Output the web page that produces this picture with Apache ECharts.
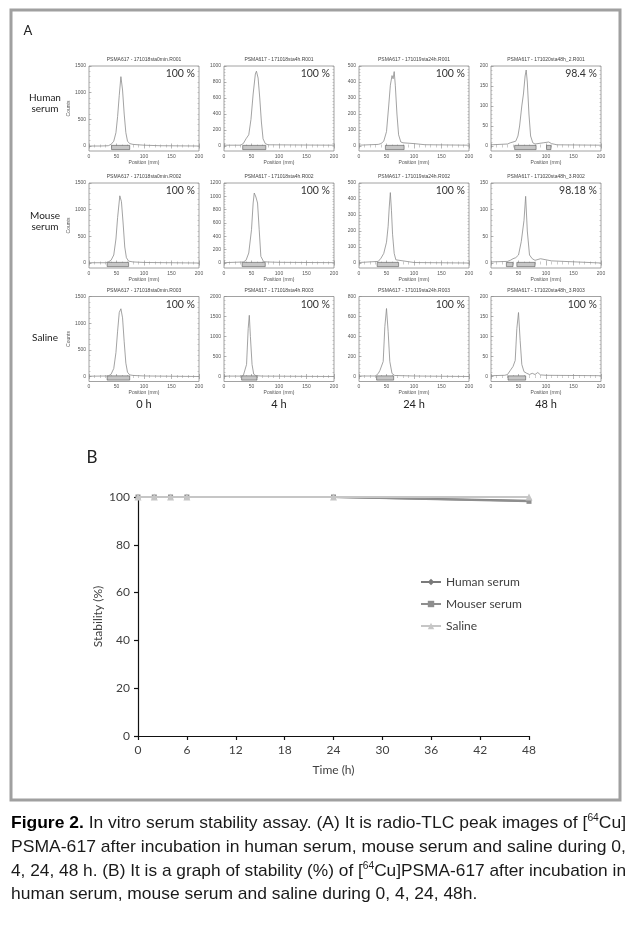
<!DOCTYPE html>
<html><head><meta charset="utf-8">
<script src="https://cdn.jsdelivr.net/npm/echarts@6/dist/echarts.min.js"></script>
<style>html,body{margin:0;padding:0;background:#fff}#c{width:640px;height:928px}</style>
</head><body><div id="c"></div>
<script>
// ---------------- Panel A data (radio-TLC traces: [position mm, counts]) ----------------
const human0h  = [[0,0],[20,0],[35,5],[40,30],[45,90],[49,250],[52,550],[55,950],[58,1300],[61,1050],[64,600],[67,250],[70,90],[74,45],[80,30],[100,15],[130,5],[200,0]];
const human4h  = [[0,10],[30,10],[35,30],[40,90],[45,140],[49,330],[53,650],[57,900],[59,935],[62,850],[65,600],[68,300],[71,90],[75,30],[80,15],[200,10]];
const human24h = [[0,5],[35,10],[40,15],[45,30],[50,90],[54,250],[57,380],[60,440],[62,420],[64,465],[66,380],[69,200],[72,70],[76,25],[80,20],[100,15],[120,8],[200,5]];
const human48h = [[0,3],[30,5],[35,8],[40,10],[45,12],[49,25],[52,50],[56,100],[59,130],[62,175],[64,190],[66,160],[69,80],[72,25],[76,8],[80,5],[95,8],[105,10],[110,6],[120,3],[200,2]];
const mouse0h  = [[0,5],[30,5],[35,20],[40,50],[45,150],[49,450],[52,850],[56,1260],[59,1150],[62,750],[65,300],[68,100],[72,35],[80,20],[100,10],[200,0]];
const mouse4h  = [[0,5],[35,15],[40,40],[45,150],[50,500],[53,900],[55,1050],[58,990],[61,900],[64,500],[67,100],[72,20],[80,15],[100,10],[200,5]];
const mouse24h = [[0,3],[35,10],[40,30],[45,60],[50,130],[53,230],[55,350],[57,440],[59,330],[61,180],[64,60],[67,20],[70,8],[100,3],[200,0]];
const mouse48h = [[0,2],[30,3],[35,5],[40,8],[45,10],[50,15],[55,40],[60,80],[63,125],[66,60],[70,15],[75,8],[80,5],[90,8],[100,6],[110,4],[200,0]];
const saline0h  = [[0,5],[35,10],[40,40],[45,150],[49,450],[52,850],[55,1200],[58,1270],[61,1100],[64,650],[67,250],[70,80],[74,30],[80,20],[100,10],[200,0]];
const saline4h  = [[0,10],[30,10],[35,20],[38,60],[41,300],[44,1200],[46,1530],[48,1000],[51,300],[54,60],[58,20],[70,10],[200,0]];
const saline24h = [[0,5],[30,5],[35,30],[38,60],[41,70],[44,150],[47,500],[50,680],[53,450],[56,150],[60,30],[65,10],[100,5],[200,0]];
const saline48h = [[0,2],[25,3],[30,5],[35,15],[40,25],[44,40],[47,120],[50,160],[53,90],[56,30],[60,12],[65,8],[70,5],[75,8],[80,5],[85,10],[90,4],[100,3],[200,2]];

// integration regions (mm)
const human0hRegion = [[41,74]], human4hRegion = [[34,76]], human24hRegion = [[48,82]], human48hRegion = [[43,82],[101,109]];
const mouse0hRegion = [[33,72]], mouse4hRegion = [[33,75]], mouse24hRegion = [[33,72]], mouse48hRegion = [[28,40],[47,80]];
const saline0hRegion = [[33,74]], saline4hRegion = [[32,60]], saline24hRegion = [[32,63]], saline48hRegion = [[31,63]];

// y tick labels
const humanTicks  = [[0,500,1000,1500],[0,200,400,600,800,1000],[0,100,200,300,400,500],[0,50,100,150,200]];
const mouseTicks  = [[0,500,1000,1500],[0,200,400,600,800,1000,1200],[0,100,200,300,400,500],[0,50,100,150]];
const salineTicks = [[0,500,1000,1500],[0,500,1000,1500,2000],[0,200,400,600,800],[0,50,100,150,200]];
const xTicksA = [0,50,100,150,200];

const humanTitles  = ['PSMA617 - 171018sta0min.R001','PSMA617 - 171018sta4h.R001','PSMA617 - 171019sta24h.R001','PSMA617 - 171020sta48h_2.R001'];
const mouseTitles  = ['PSMA617 - 171018sta0min.R002','PSMA617 - 171018sta4h.R002','PSMA617 - 171019sta24h.R002','PSMA617 - 171020sta48h_3.R002'];
const salineTitles = ['PSMA617 - 171018sta0min.R003','PSMA617 - 171018sta4h.R003','PSMA617 - 171019sta24h.R003','PSMA617 - 171020sta48h_3.R003'];
const humanPct  = ['100 %','100 %','100 %','98.4 %'];
const mousePct  = ['100 %','100 %','100 %','98.18 %'];
const salinePct = ['100 %','100 %','100 %','100 %'];
const rowLabels = [['Human','serum'],['Mouse','serum'],['Saline']];
const timeLabels = ['0 h','4 h','24 h','48 h'];

// ---------------- Panel B data ----------------
const timesB = [0,2,4,6,24,48];
const humanSerum = [100,100,100,100,100,98.4];
const mouseSerum = [100,100,100,100,100,98.18];
const salineB    = [100,100,100,100,100,100];
const seriesNamesB = ['Human serum','Mouser serum','Saline'];
const xTicksB = [0,6,12,18,24,30,36,42,48];
const yTicksB = [0,20,40,60,80,100];

// ---------------- Caption ----------------
const captionLines = [
  [['Figure 2.','b'],[' In vitro serum stability assay. (A) It is radio-TLC peak images of [','n'],['64','s'],['Cu]','n']],
  [['PSMA-617 after incubation in human serum, mouse serum and saline during 0,','n']],
  [['4, 24, 48 h. (B) It is a graph of stability (%) of [','n'],['64','s'],['Cu]PSMA-617 after incubation in','n']],
  [['human serum, mouse serum and saline during 0, 4, 24, 48h.','n']]
];

// ---------------- Build ----------------
const rows = [
  {data:[human0h,human4h,human24h,human48h], regions:[human0hRegion,human4hRegion,human24hRegion,human48hRegion], ticks:humanTicks, titles:humanTitles, pct:humanPct},
  {data:[mouse0h,mouse4h,mouse24h,mouse48h], regions:[mouse0hRegion,mouse4hRegion,mouse24hRegion,mouse48hRegion], ticks:mouseTicks, titles:mouseTitles, pct:mousePct},
  {data:[saline0h,saline4h,saline24h,saline48h], regions:[saline0hRegion,saline4hRegion,saline24hRegion,saline48hRegion], ticks:salineTicks, titles:salineTitles, pct:salinePct}
];
const colLefts = [89, 224, 359, 491];
const rowTops = [66, 183, 296.5];
const GW = 110, GH = 85;
const SANS = 'Lato, "Open Sans", sans-serif';
const TINY = '"Liberation Sans", Arial, sans-serif';
const plain = v => String(v);

const grid = [], xAxis = [], yAxis = [], series = [], graphic = [];
graphic.push({type:'rect', shape:{x:11, y:10, width:609, height:790}, style:{fill:'none', stroke:'#a0a0a0', lineWidth:3}, silent:true});
graphic.push({type:'text', x:28, y:31, style:{text:'A', fontSize:13, fontFamily:SANS, fill:'#222', align:'center', verticalAlign:'middle'}});

let gi = 0;
rows.forEach((row, r) => {
  row.data.forEach((d, c) => {
    const left = colLefts[c], top = rowTops[r];
    const ticks = row.ticks[c];
    const ymax = ticks[ticks.length-1];
    const ymin = -ymax * 5/80;
    const step = ticks[1]-ticks[0];
    const minors = [];
    for (let v = 0; v <= ymax + 1e-9; v += step/5) minors.push(Math.round(v*1000)/1000);
    grid.push({left:left, top:top, width:GW, height:GH, show:true, borderColor:'#8a8a8a', borderWidth:0.8, backgroundColor:'transparent'});
    const xi = xAxis.length, yi = yAxis.length;
    xAxis.push({type:'value', gridIndex:gi, min:0, max:200, interval:50, position:'bottom',
      axisLine:{show:false}, splitLine:{show:false},
      axisTick:{inside:true, length:2.5, lineStyle:{color:'#888', width:0.6}},
      minorTick:{show:true, splitNumber:5, length:1.5, lineStyle:{color:'#999', width:0.5}},
      axisLabel:{fontSize:5, color:'#555', margin:3, fontFamily:TINY, customValues:xTicksA, formatter:plain},
      name:'Position (mm)', nameLocation:'middle', nameGap:8.5, nameTextStyle:{fontSize:5, color:'#555', fontFamily:TINY}});
    xAxis.push({type:'value', gridIndex:gi, min:0, max:200, interval:50, position:'top',
      axisLine:{show:false}, splitLine:{show:false}, axisLabel:{show:false},
      axisTick:{inside:true, length:2.5, lineStyle:{color:'#888', width:0.6}},
      minorTick:{show:true, splitNumber:5, length:1.5, lineStyle:{color:'#999', width:0.5}}});
    const yLeft = {type:'value', gridIndex:gi, min:ymin, max:ymax, position:'left',
      axisLine:{show:false}, splitLine:{show:false},
      axisTick:{inside:true, length:2.5, customValues:ticks, lineStyle:{color:'#888', width:0.6}},
      axisLabel:{fontSize:5, color:'#555', margin:3, customValues:ticks, fontFamily:TINY, formatter:plain}};
    if (c === 0) Object.assign(yLeft, {name:'Counts', nameLocation:'middle', nameGap:17, nameRotate:90, nameTextStyle:{fontSize:5, color:'#555', fontFamily:TINY}});
    yAxis.push(yLeft);
    yAxis.push({type:'value', gridIndex:gi, min:ymin, max:ymax, position:'left',
      axisLine:{show:false}, splitLine:{show:false}, axisLabel:{show:false},
      axisTick:{inside:true, length:1.5, customValues:minors, lineStyle:{color:'#999', width:0.5}}});
    yAxis.push({type:'value', gridIndex:gi, min:ymin, max:ymax, position:'right',
      axisLine:{show:false}, splitLine:{show:false}, axisLabel:{show:false},
      axisTick:{inside:true, length:1.5, customValues:minors, lineStyle:{color:'#999', width:0.5}}});
    series.push({type:'line', xAxisIndex:xi, yAxisIndex:yi, data:d, symbol:'none', silent:true,
      lineStyle:{color:'#8c8c8c', width:0.8}, z:3,
      markArea:{silent:true, itemStyle:{color:'#c6c6c6', borderColor:'#555', borderWidth:0.6},
        data: row.regions[c].map(([a,b]) => [{coord:[a, -ymax*0.045]}, {coord:[b, ymax*0.008]}])}});
    graphic.push({type:'text', x:left+GW/2, y:top-6, style:{text:row.titles[c], fontSize:5, fontFamily:TINY, fill:'#444', align:'center', verticalAlign:'middle'}});
    graphic.push({type:'text', x:left+GW-4, y:top+8, style:{text:row.pct[c], fontSize:10.5, fontFamily:SANS, fill:'#333', align:'right', verticalAlign:'middle'}});
    gi++;
  });
  const lab = rowLabels[r];
  const cy = [103, 221, 338][r];
  graphic.push({type:'text', x:45, y:cy, style:{text:lab.join('\n'), fontSize:10, lineHeight:11, fontFamily:SANS, fill:'#222', align:'center', verticalAlign:'middle'}});
});
timeLabels.forEach((t, c) => {
  graphic.push({type:'text', x:colLefts[c]+GW/2, y:404, style:{text:t, fontSize:11, fontFamily:SANS, fill:'#222', align:'center', verticalAlign:'middle'}});
});

// Panel B
graphic.push({type:'text', x:92, y:458, style:{text:'B', fontSize:17, fontFamily:SANS, fill:'#222', align:'center', verticalAlign:'middle'}});
const gB = grid.length;
grid.push({left:138, top:497, width:391, height:239, show:false});
const xB = xAxis.length, yB = yAxis.length;
const axisStyleB = {lineStyle:{color:'#111', width:1.2}};
xAxis.push({type:'value', gridIndex:gB, min:0, max:48, interval:6,
  axisLine:{show:true, onZero:false, ...axisStyleB}, axisTick:{show:true, length:4, lineStyle:{color:'#111', width:1.2}},
  splitLine:{show:false}, axisLabel:{fontSize:12, color:'#404040', margin:8, fontFamily:SANS, customValues:xTicksB},
  name:'Time (h)', nameLocation:'middle', nameGap:28, nameTextStyle:{fontSize:12, color:'#404040', fontFamily:SANS}});
yAxis.push({type:'value', gridIndex:gB, min:0, max:100, interval:20,
  axisLine:{show:true, onZero:false, ...axisStyleB}, axisTick:{show:true, length:4, lineStyle:{color:'#111', width:1.2}},
  splitLine:{show:false}, axisLabel:{fontSize:12, color:'#404040', margin:8, fontFamily:SANS, customValues:yTicksB},
  name:'Stability (%)', nameLocation:'middle', nameGap:34, nameMoveOverlap:false, nameRotate:90, nameTextStyle:{fontSize:12, color:'#404040', fontFamily:SANS}});
const pair = v => timesB.map((t,i) => [t, v[i]]);
const bStyles = [
  {sym:'diamond', size:5, color:'#7a7a7a'},
  {sym:'rect', size:5, color:'#8e8e8e'},
  {sym:'triangle', size:7, color:'#c6c6c6'}
];
[humanSerum, mouseSerum, salineB].forEach((v, i) => {
  series.push({type:'line', name:seriesNamesB[i], xAxisIndex:xB, yAxisIndex:yB, data:pair(v),
    symbol:bStyles[i].sym, symbolSize:bStyles[i].size, showSymbol:true,
    itemStyle:{color:bStyles[i].color}, lineStyle:{color:bStyles[i].color, width:2}, z:4+i});
});

// Caption (justified by horizontal scaling)
const FS = 17, CF = '"Liberation Sans", Arial, sans-serif';
const ctx = document.createElement('canvas').getContext('2d');
const fonts = {b:'bold '+FS+'px '+CF, n:FS+'px '+CF, s:'10px '+CF};
const lineWidth = line => line.reduce((a,[t,k]) => { ctx.font = fonts[k]; return a + ctx.measureText(t).width; }, 0);
const target = 615;
const scales = captionLines.map(l => target / lineWidth(l));
const avgScale = (scales[0]+scales[1]+scales[2])/3;
const capY = [823, 847, 871, 894];
captionLines.forEach((line, i) => {
  const text = line.map(([t,k]) => '{'+k+'|'+t+'}').join('');
  graphic.push({type:'text', x:11, y:capY[i], scaleX: i<3 ? scales[i] : avgScale, originX:0, originY:0,
    style:{text:text, align:'left', verticalAlign:'middle', fill:'#1a1a1a',
      rich:{
        b:{fontSize:FS, fontWeight:'bold', fontFamily:CF, fill:'#000', lineHeight:20},
        n:{fontSize:FS, fontFamily:CF, fill:'#1a1a1a', lineHeight:20},
        s:{fontSize:10, fontFamily:CF, fill:'#1a1a1a', lineHeight:20, verticalAlign:'top'}
      }}});
});

const chart = echarts.init(document.getElementById('c'), null, {renderer:'canvas', width:640, height:928});
chart.setOption({
  animation:false,
  backgroundColor:'#fff',
  grid, xAxis, yAxis, series, graphic,
  legend:{show:true, data:seriesNamesB, orient:'vertical', left:420, top:576, padding:0, itemWidth:20, itemHeight:8, itemGap:10,
    textStyle:{fontSize:12, color:'#404040', fontFamily:SANS}, selectedMode:false}
});
</script></body></html>
